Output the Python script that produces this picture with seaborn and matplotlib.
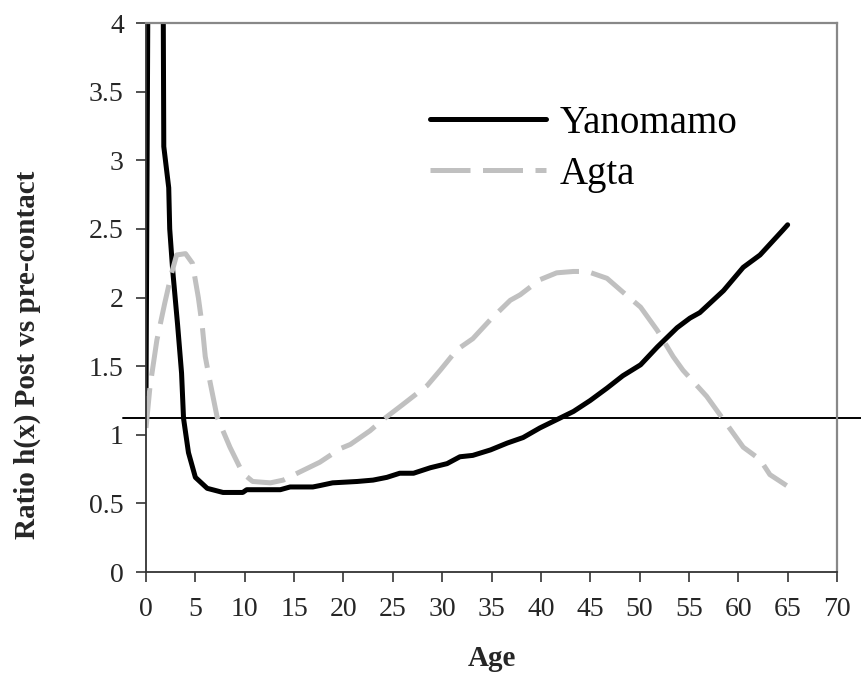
import numpy as np
import pandas as pd
import seaborn as sns
import matplotlib.pyplot as plt
from matplotlib.ticker import FuncFormatter

# Yanomamo ratio (peak near age 1 runs off the top of the chart)
yano_age = [0, 0.5, 1.0, 1.5, 1.75, 1.8, 2.3, 2.4, 2.7, 3.2, 3.6, 3.8, 4.3, 5.0,
            6.2, 7.8, 9.8, 10.2, 13.6, 14.6, 16.9, 17.6, 18.9, 21.4, 23.0, 24.4,
            25.7, 27.1, 28.8, 30.5, 31.8, 33.1, 34.9, 36.6, 38.2, 39.9, 41.6, 43.3,
            45.0, 46.7, 48.3, 50.1, 51.8, 53.8, 55.1, 56.1, 58.5, 60.5, 62.2, 64.5, 65.0]
yano_ratio = [1.3, 9.0, 10.0, 9.0, 4.0, 3.1, 2.8, 2.5, 2.2, 1.8, 1.45, 1.12, 0.87, 0.69,
              0.61, 0.58, 0.58, 0.60, 0.60, 0.62, 0.62, 0.63, 0.65, 0.66, 0.67, 0.69,
              0.72, 0.72, 0.76, 0.79, 0.84, 0.85, 0.89, 0.94, 0.98, 1.05, 1.11, 1.17,
              1.25, 1.34, 1.43, 1.51, 1.64, 1.78, 1.85, 1.89, 2.05, 2.22, 2.31, 2.49, 2.53]

# Agta ratio
agta_age = [0, 0.4, 1.1, 1.9, 2.6, 3.1, 4.0, 4.7, 5.3, 5.7, 6.0, 6.5, 7.2, 8.5,
            9.8, 10.8, 12.6, 13.9, 15.6, 17.6, 19.7, 20.7, 22.7, 24.0, 26.0, 28.5,
            29.8, 31.5, 33.1, 34.9, 36.9, 37.9, 39.9, 41.6, 43.3, 44.7, 46.7, 48.3,
            50.1, 51.8, 53.4, 54.4, 56.8, 58.5, 60.5, 62.2, 63.2, 64.9]
agta_ratio = [1.05, 1.35, 1.69, 1.96, 2.18, 2.31, 2.32, 2.25, 2.0, 1.79, 1.57, 1.38, 1.13, 0.91,
              0.72, 0.66, 0.65, 0.67, 0.73, 0.80, 0.90, 0.93, 1.03, 1.11, 1.22, 1.36,
              1.47, 1.62, 1.70, 1.84, 1.98, 2.02, 2.13, 2.18, 2.19, 2.19, 2.14, 2.04,
              1.93, 1.76, 1.57, 1.47, 1.28, 1.11, 0.91, 0.82, 0.71, 0.63]

ref_level = 1.12
x_ticks = list(range(0, 75, 5))
y_ticks = [0, 0.5, 1, 1.5, 2, 2.5, 3, 3.5, 4]

yano = pd.DataFrame({'Age': yano_age, 'ratio': yano_ratio})
agta = pd.DataFrame({'Age': agta_age, 'ratio': agta_ratio})

sns.set_theme(style='white')
plt.rcParams['font.family'] = ['Liberation Serif', 'DejaVu Serif']

fig = plt.figure(figsize=(8.62, 6.77), dpi=100)
ax = fig.add_axes([0.1694, 0.155, 0.8016, 0.811])

sns.lineplot(data=yano, x='Age', y='ratio', ax=ax, color='black', lw=3.6,
             label='Yanomamo', sort=False, estimator=None)
sns.lineplot(data=agta, x='Age', y='ratio', ax=ax, color='#c0c0c0', lw=3.6,
             label='Agta', sort=False, estimator=None, dashes=False)
ax.lines[1].set_dashes([8, 2.5])

# reference line, runs a bit past the plot area on both sides
ax.plot([-2.35, 72.6], [ref_level, ref_level], color='black', lw=1.4,
        clip_on=False, zorder=1)

ax.set_xlim(0, 70)
ax.set_ylim(0, 4)
ax.set_xticks(x_ticks)
ax.set_yticks(y_ticks)
ax.yaxis.set_major_formatter(FuncFormatter(lambda v, p: '%g' % v))
ax.tick_params(axis='both', which='major', direction='out', length=7, width=1.2,
               labelsize=20, color='#333333', bottom=True, left=True)
ax.tick_params(axis='x', pad=11)
ax.tick_params(axis='y', pad=9)

for side in ['left', 'bottom']:
    ax.spines[side].set_color('#333333')
    ax.spines[side].set_linewidth(1.3)
for side in ['top', 'right']:
    ax.spines[side].set_color('#888888')
    ax.spines[side].set_linewidth(1.6)

ax.set_xlabel('Age', fontsize=21, fontweight='bold')
ax.xaxis.set_label_coords(0.5, -0.132)
ax.set_ylabel('Ratio h(x) Post vs pre-contact', fontsize=21, fontweight='bold')
ax.yaxis.set_label_coords(-0.152, 0.395)

leg = ax.legend(loc='upper left', bbox_to_anchor=(0.36, 0.915), frameon=False,
                fontsize=28, handlelength=3.0, handletextpad=0.33, labelspacing=0.36)
for t in leg.get_texts():
    t.set_color('black')

fig.savefig('out.png', dpi=100)
